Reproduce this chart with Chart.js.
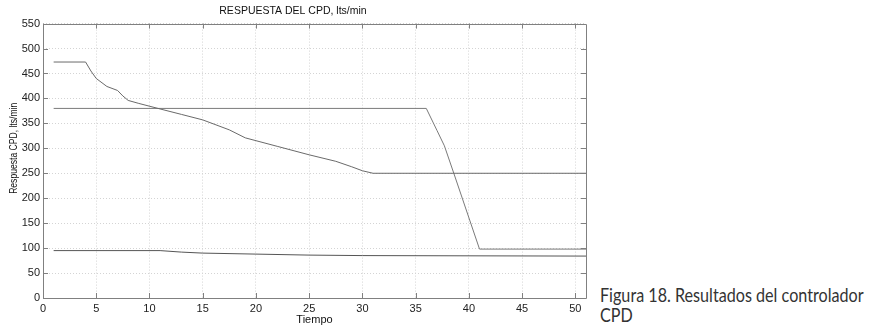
<!DOCTYPE html>
<html>
<head>
<meta charset="utf-8">
<script src="https://cdn.jsdelivr.net/npm/chart.js@4/dist/chart.umd.min.js"></script>
<style>
  body { margin: 0; background: #fff; }
  #wrap { position: absolute; left: 0; top: 0; width: 590px; height: 329px; }
  #caption {
    position: absolute; left: 600px; top: 285px; white-space: nowrap;
    font-family: Lato, sans-serif; font-size: 19px; line-height: 20px; color: #333;
    transform: scaleX(0.85); transform-origin: left top;
  }
</style>
</head>
<body>
<div id="wrap"><canvas id="chart-cpd" width="590" height="329"></canvas></div>
<div id="caption">Figura 18. Resultados del controlador<br>CPD</div>
<script>
// Tiempo / respuesta pairs
var tiempoA = [1, 4, 4.5, 5, 6, 7, 7.5, 8, 9, 10.8, 13, 15, 17.5, 19, 22, 25, 27.5, 29, 30, 31, 51];
var respuestaA = [473, 473, 455, 440, 424, 416, 405, 396, 390, 380, 368, 357, 337, 321, 304, 287, 274, 263, 255, 250, 250];

var tiempoB = [1, 36, 37, 37.7, 38.6, 41, 51];
var respuestaB = [380, 380, 336, 305, 249, 98, 98];

var tiempoC = [1, 11, 13, 15, 20, 25, 30, 51];
var respuestaC = [95, 95, 92, 90, 88, 86, 85, 84];

var xTicks = [0, 5, 10, 15, 20, 25, 30, 35, 40, 45, 50];
var yTicks = [0, 50, 100, 150, 200, 250, 300, 350, 400, 450, 500, 550];

var yTitle = 'Respuesta CPD, lts/min';

function pairs(xs, ys) {
    return xs.map(function (x, i) { return { x: x, y: ys[i] }; });
}

function serie(xs, ys, color) {
    return {
        data: pairs(xs, ys),
        borderColor: color,
        borderWidth: 1,
        pointRadius: 0,
        tension: 0,
        fill: false
    };
}

// box round the plot with little inward ticks, matlab style
var boxPlugin = {
    id: 'box',
    afterDatasetsDraw: function (chart) {
        var ctx = chart.ctx, a = chart.chartArea;
        var sx = chart.scales.x, sy = chart.scales.y;
        ctx.save();
        ctx.strokeStyle = '#808080';
        ctx.lineWidth = 1;
        ctx.beginPath();
        ctx.rect(Math.round(a.left) + 0.5, Math.round(a.top) + 0.5,
            Math.round(a.right - a.left), Math.round(a.bottom - a.top));
        xTicks.forEach(function (v) {
            var px = Math.round(sx.getPixelForValue(v)) + 0.5;
            ctx.moveTo(px, a.bottom); ctx.lineTo(px, a.bottom - 5);
            ctx.moveTo(px, a.top); ctx.lineTo(px, a.top + 5);
        });
        yTicks.forEach(function (v) {
            var py = Math.round(sy.getPixelForValue(v)) + 0.5;
            ctx.moveTo(a.left, py); ctx.lineTo(a.left + 5, py);
            ctx.moveTo(a.right, py); ctx.lineTo(a.right - 5, py);
        });
        ctx.stroke();

        // y title, squeezed along its length like in the scanned figure
        ctx.fillStyle = '#111';
        ctx.font = '11px "Liberation Sans", Arial, sans-serif';
        ctx.textAlign = 'center';
        ctx.textBaseline = 'middle';
        ctx.translate(14, sy.getPixelForValue(300));
        ctx.rotate(-Math.PI / 2);
        ctx.scale(0.78, 1);
        ctx.fillText(yTitle, 0, 0);
        ctx.restore();
    }
};

Chart.defaults.font.family = '"Liberation Sans", Arial, sans-serif';
Chart.defaults.font.size = 11;
Chart.defaults.color = '#222';

var ctx = document.getElementById('chart-cpd');
new Chart(ctx, {
    type: 'line',
    data: {
        datasets: [
            serie(tiempoA, respuestaA, '#6a6a6a'),
            serie(tiempoB, respuestaB, '#7a7a7a'),
            serie(tiempoC, respuestaC, '#555555')
        ]
    },
    options: {
        responsive: false,
        animation: false,
        layout: { padding: { left: 0, right: 4, top: 0, bottom: 0 } },
        plugins: {
            legend: { display: false },
            tooltip: { enabled: false },
            title: {
                display: true,
                text: 'RESPUESTA DEL CPD, lts/min',
                color: '#111',
                font: { size: 10.5, weight: 'normal' },
                padding: { top: 5, bottom: 6 }
            }
        },
        scales: {
            x: {
                type: 'linear',
                min: 0,
                max: 51,
                grid: { color: '#d4d4d4', drawTicks: false },
                border: { display: false, dash: [1, 2] },
                ticks: { stepSize: 5, includeBounds: false, padding: 4, maxRotation: 0 },
                title: { display: true, text: 'Tiempo', color: '#111', padding: { top: 0, bottom: 2 } },
                afterFit: function (scale) { scale.height = 31; }
            },
            y: {
                min: 0,
                max: 550,
                grid: { color: '#d4d4d4', drawTicks: false },
                border: { display: false, dash: [1, 2] },
                ticks: { stepSize: 50, includeBounds: false, padding: 3 },
                title: { display: false },
                afterFit: function (scale) { scale.width = 43; }
            }
        }
    },
    plugins: [boxPlugin]
});
</script>
</body>
</html>
